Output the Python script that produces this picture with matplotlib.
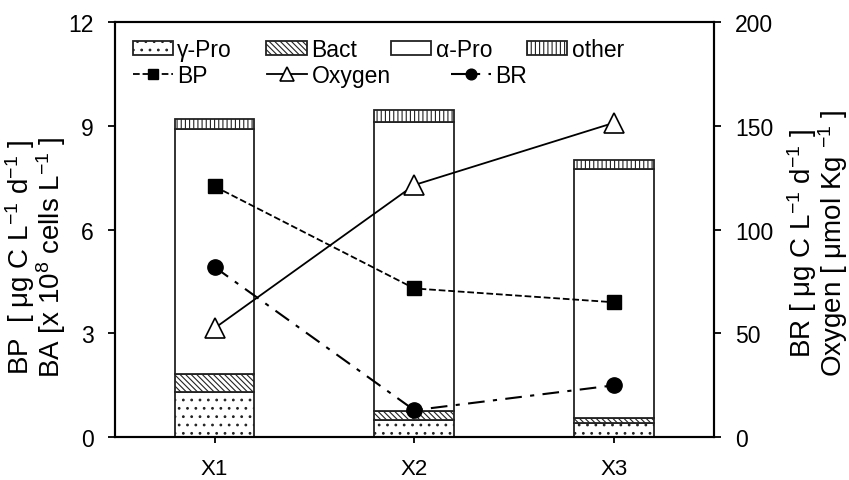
import matplotlib.pyplot as plt
import numpy as np

plt.rcParams['font.family'] = ['Liberation Sans', 'DejaVu Sans']
plt.rcParams['mathtext.fontset'] = 'custom'
plt.rcParams['mathtext.rm'] = 'Liberation Sans'
plt.rcParams['mathtext.it'] = 'Liberation Sans'
plt.rcParams['hatch.color'] = '#333333'
plt.rcParams['hatch.linewidth'] = 0.8

sites = ["X1", "X2", "X3"]
gamma_pro = [1.3, 0.5, 0.42]
bact = [0.52, 0.25, 0.13]
alpha_pro = [7.08, 8.35, 7.2]
other = [0.3, 0.35, 0.25]
bp = [7.25, 4.3, 3.9]
oxygen = [52.5, 121.5, 151.5]
br = [82, 13, 25]

x = np.arange(len(sites))
w = 0.4

fig, ax = plt.subplots(figsize=(8.49, 4.81), dpi=100)
fig.subplots_adjust(left=0.135, right=0.841, top=0.952, bottom=0.089)

kw = dict(width=w, color='white', edgecolor='#222222', linewidth=1.3)
b1 = ax.bar(x, gamma_pro, hatch='..', **kw)
bottom = np.array(gamma_pro)
b2 = ax.bar(x, bact, bottom=bottom, hatch='\\\\\\\\\\\\', **kw)
bottom = bottom + np.array(bact)
b3 = ax.bar(x, alpha_pro, bottom=bottom, **kw)
bottom = bottom + np.array(alpha_pro)
b4 = ax.bar(x, other, bottom=bottom, hatch='||||', **kw)

l_bp, = ax.plot(x, bp, '--', color='black', lw=1.3, marker='s', ms=10, zorder=5)

ax2 = ax.twinx()
l_ox, = ax2.plot(x, oxygen, '-', color='black', lw=1.3, marker='^', ms=14,
                 markerfacecolor='white', markeredgewidth=1.2, zorder=5)
l_br, = ax2.plot(x, br, '-.', color='black', lw=1.5, marker='o', ms=11,
                 dashes=(8, 4, 2, 4), zorder=5)

ax.set_xlim(-0.5, 2.5)
ax.set_ylim(0, 12)
ax.set_yticks([0, 3, 6, 9, 12])
ax2.set_ylim(0, 200)
ax2.set_yticks([0, 50, 100, 150, 200])
ax.set_xticks(x)
ax.set_xticklabels(sites)

for a in (ax, ax2):
    a.tick_params(direction='out', length=5, width=1.3, labelsize=16.5, pad=10)
    for s in a.spines.values():
        s.set_linewidth(1.5)
ax.tick_params(axis='x', labelsize=16, length=4, pad=11)

ax.set_ylabel("BP  [ μg C L$^{-1}$ d$^{-1}$ ]\nBA [x 10$^{8}$ cells L$^{-1}$ ]",
              fontsize=20, linespacing=0.9)
ax.yaxis.set_label_coords(-0.077, 0.435)
ax2.set_ylabel("BR [ μg C L$^{-1}$ d$^{-1}$ ]\nOxygen [ μmol Kg $^{-1}$ ]",
               fontsize=20, linespacing=0.9)
ax2.yaxis.set_label_coords(1.118, 0.47)

leg1 = ax2.legend([b1, b2, b3, b4], ["γ-Pro", "Bact", "α-Pro", "other"],
                  ncol=4, loc='upper left', bbox_to_anchor=(0.03, 0.962),
                  frameon=False, fontsize=16.5, handlelength=1.75,
                  handleheight=0.55, handletextpad=0.2, columnspacing=1.5,
                  borderpad=0, borderaxespad=0)
ax2.add_artist(leg1)
ax2.legend([l_bp, l_ox, l_br], ["BP", "Oxygen", "BR"], ncol=3,
           loc='upper left', bbox_to_anchor=(0.03, 0.90), frameon=False,
           fontsize=16.5, handlelength=1.75, handletextpad=0.2,
           columnspacing=2.6, markerscale=0.7, borderpad=0, borderaxespad=0)

fig.savefig("out.png", dpi=100)
